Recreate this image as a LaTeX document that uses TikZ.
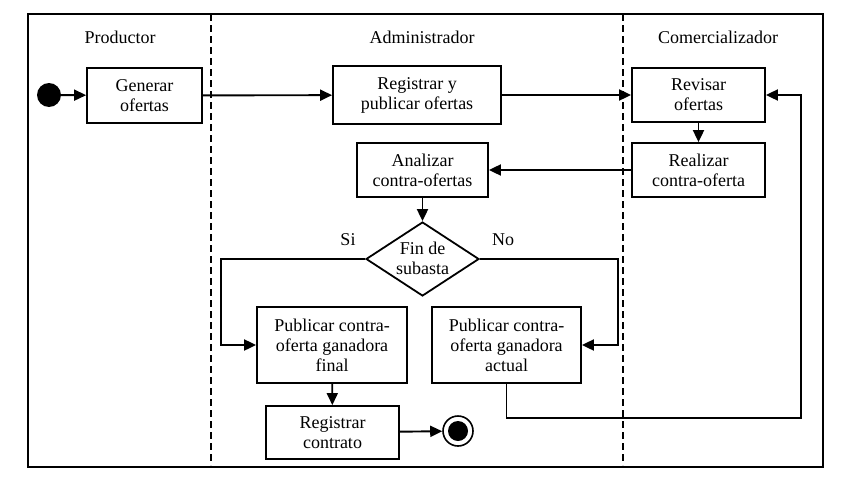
\documentclass[tikz,border=0pt]{standalone}
\usepackage{fontspec}
\setmainfont{Liberation Serif}
\usetikzlibrary{arrows.meta,shapes.geometric}
\begin{document}
\begin{tikzpicture}[x=1pt,y=-1pt,
  txt/.style={font=\fontsize{18}{20}\selectfont,align=center,inner sep=0pt},
  act/.style={txt,draw,line width=1.8pt},
  flow/.style={line width=1.9pt,-{Triangle[length=12pt,width=11pt]}},
  lane/.style={line width=2.2pt,dash pattern=on 7pt off 4pt}]
\useasboundingbox (0,0) rectangle (850,479);
\draw[line width=1.4pt] (28,14) rectangle (823,467);
\draw[lane] (211,14) -- (211,465);
\draw[lane] (623,14) -- (623,465);
\node[txt] (lp) at (120,37) {Productor};
\node[txt] (la) at (422,37) {Administrador};
\node[txt] (lc) at (718,37) {Comercializador};
\node[circle,fill,minimum size=24pt,inner sep=0pt] (start) at (49,95) {};
\node[act,minimum width=115pt,minimum height=55pt] (gen) at (144.5,95.5) {Generar\\ofertas};
\node[act,minimum width=168pt,minimum height=58pt] (reg) at (417,95) {Registrar y\\publicar ofertas};
\node[act,minimum width=133pt,minimum height=54pt] (rev) at (698.5,95) {Revisar\\ofertas};
\node[act,minimum width=133pt,minimum height=54pt] (rea) at (698.5,170) {Realizar\\contra-oferta};
\node[act,minimum width=131pt,minimum height=54pt] (ana) at (422.5,170) {Analizar\\contra-ofertas};
\node[draw,diamond,line width=1.8pt,inner sep=0pt,minimum width=113pt,minimum height=74pt] (dec) at (422.5,259) {};
\node[txt] (dectext) at (422.5,258) {Fin de\\subasta};
\node[txt] (si) at (348,240) {Si};
\node[txt] (no) at (503,240) {No};
\node[act,minimum width=150pt,minimum height=76pt] (pfin) at (332,345) {Publicar contra-\\oferta ganadora\\final};
\node[act,minimum width=149pt,minimum height=76pt] (pact) at (506.5,345) {Publicar contra-\\oferta ganadora\\actual};
\node[act,minimum width=133pt,minimum height=53pt] (con) at (332.5,432.5) {Registrar\\contrato};
\node[circle,draw,line width=1.6pt,minimum size=30pt,inner sep=0pt] (fin) at (458,431) {};
\node[circle,fill,minimum size=20pt,inner sep=0pt] (finin) at (458,431) {};
\coordinate (siL) at (221,259);
\coordinate (noR) at (618,259);
\coordinate (lpB) at (801,418);
\draw[flow] (start) -- (gen);
\draw[flow] (gen) -- (reg);
\draw[flow] (reg) -- (rev);
\draw[flow] (rev) -- (rea);
\draw[flow] (rea) -- (ana);
\draw[flow] (ana) -- (dec);
\draw[flow] (dec.west) -- (siL) |- (pfin.west);
\draw[flow] (dec.east) -- (noR) |- (pact.east);
\draw[flow] (pfin) -- (con);
\draw[flow] (con) -- (fin);
\draw[flow] (pact.south) |- (lpB) |- (rev.east);
\end{tikzpicture}
\end{document}
